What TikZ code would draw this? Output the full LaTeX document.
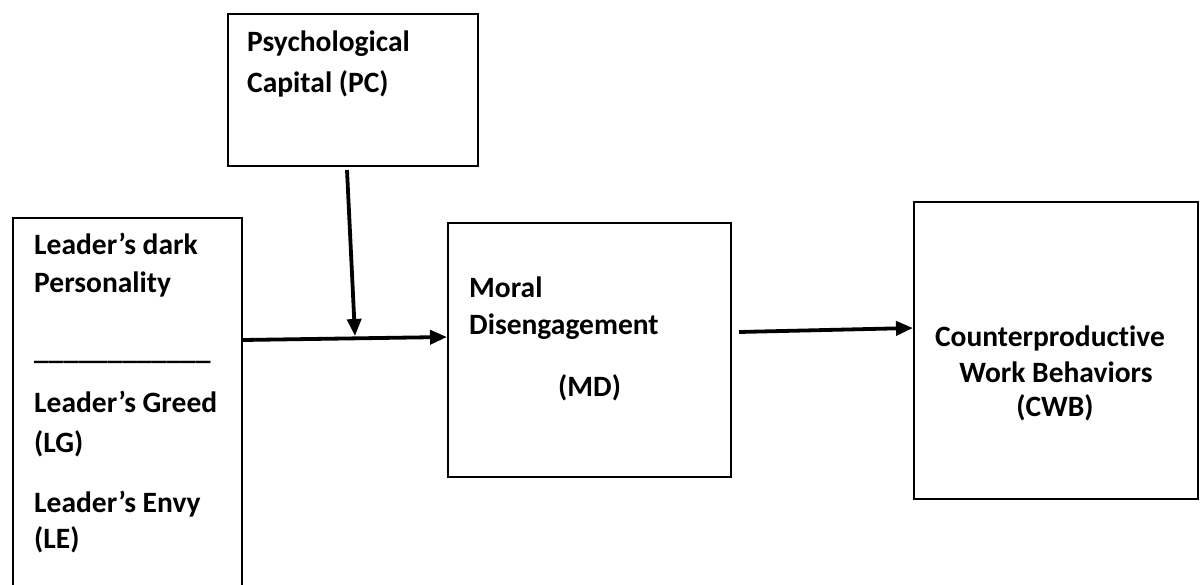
\documentclass[tikz,border=0pt]{standalone}
\usepackage{fontspec}
\setmainfont{Carlito}[Ligatures=NoCommon]
\usetikzlibrary{arrows.meta,calc}
\begin{document}
\begin{tikzpicture}[x=1pt,y=-1pt,
  box/.style={draw,line width=2pt,inner sep=0pt,anchor=north west,rectangle},
  lbl/.style={anchor=base west,inner sep=0pt,font=\fontsize{29.5}{36}\selectfont\bfseries},
  clbl/.style={anchor=base,inner sep=0pt,font=\fontsize{29.5}{36}\selectfont\bfseries},
  conn/.style={line width=3.8pt,-{Triangle[length=17pt,width=14pt]}}]
\clip (0,0) rectangle (1200,585);
% boxes
\node[box,minimum width=250pt,minimum height=152pt] (pc) at (227,13) {};
\node[box,minimum width=229pt,minimum height=420pt] (lb) at (12,217) {};
\node[box,minimum width=283pt,minimum height=254pt] (md) at (447,222) {};
\node[box,minimum width=284pt,minimum height=297pt] (cwb) at (913,201) {};
% texts
\node[lbl] (pc1) at (247,52) {Psychological};
\node[lbl] (pc2) at (247,93) {Capital (PC)};
\node[lbl] (lb1) at (34,255) {Leader’s dark};
\node[lbl] (lb2) at (34,293) {Personality};
\node[lbl] (lb3) at (34,360) {\_\_\_\_\_\_\_\_\_\_\_\_};
\node[lbl] (lb4) at (34,413) {Leader’s Greed};
\node[lbl] (lb5) at (34,452) {(LG)};
\node[lbl] (lb6) at (34,512) {Leader’s Envy};
\node[lbl] (lb7) at (34,548) {(LE)};
\node[lbl] (md1) at (469,298) {Moral};
\node[lbl] (md2) at (469,335) {Disengagement};
\node[lbl] (md3) at (558,396) {(MD)};
\node[clbl] (c1) at (1050,347) {Counterproductive};
\node[clbl] (c2) at (1056,382) {Work Behaviors};
\node[clbl] (c3) at (1055,417) {(CWB)};
% connectors
\coordinate (s1) at ($(lb.north east)+(0,123)$);
\coordinate (e1) at ($(md.north west)+(0,115)$);
\coordinate (s2) at ($(pc.south)+(-6,3)$);
\coordinate (e2) at (355,336);
\coordinate (s3) at ($(md.north east)+(7,110)$);
\coordinate (e3) at ($(cwb.north west)+(0,127)$);
\draw[conn] (s1) -- (e1);
\draw[conn] (s2) -- (e2);
\draw[conn] (s3) -- (e3);
\end{tikzpicture}
\end{document}
